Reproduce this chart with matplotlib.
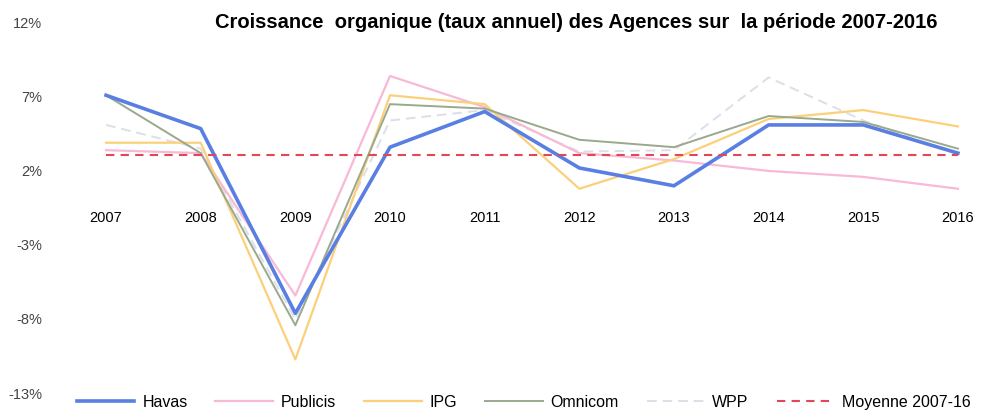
import matplotlib.pyplot as plt

plt.rcParams['font.family'] = ['Liberation Sans', 'DejaVu Sans']

years = [2007, 2008, 2009, 2010, 2011, 2012, 2013, 2014, 2015, 2016]
havas = [7.0, 4.75, -7.7, 3.5, 5.9, 2.1, 0.9, 5.0, 5.0, 3.1]
publicis = [3.3, 3.1, -6.5, 8.3, 6.2, 3.1, 2.6, 1.9, 1.5, 0.7]
ipg = [3.8, 3.8, -10.8, 7.0, 6.4, 0.7, 2.7, 5.4, 6.0, 4.9]
omnicom = [7.0, 3.1, -8.5, 6.4, 6.1, 4.0, 3.5, 5.6, 5.2, 3.4]
wpp = [5.0, 3.4, -8.1, 5.3, 6.0, 3.2, 3.3, 8.2, 5.3, 3.0]
moyenne = [3.0] * len(years)

yticks = [12, 7, 2, -3, -8, -13]
title = "Croissance  organique (taux annuel) des Agences sur  la période 2007-2016"

fig = plt.figure(figsize=(9.81, 4.14), dpi=100)
ax = fig.add_axes([0.056, 0.0507, 0.934, 0.896])

ax.plot(years, wpp, color='#dcdfe8', lw=1.4, ls=(0, (5, 3)), label='WPP', zorder=2)
ax.plot(years, publicis, color='#f8b9d6', lw=1.6, label='Publicis', zorder=3)
ax.plot(years, ipg, color='#fcd07a', lw=1.6, label='IPG', zorder=3)
ax.plot(years, omnicom, color='#9aa88c', lw=1.4, label='Omnicom', zorder=4)
ax.plot(years, havas, color='#5a7fe2', lw=2.6, label='Havas', zorder=5)
ax.plot(years, moyenne, color='#e0485a', lw=1.5, ls=(0, (4, 3)), label='Moyenne 2007-16', zorder=6)

ax.set_xlim(2006.46, 2016.14)
ax.set_ylim(-13, 12)
ax.set_yticks(yticks)
ax.set_yticklabels([f"{v}%" for v in yticks], color='#444444')
ax.set_xticks(years)
ax.set_xticklabels([str(y) for y in years], color='#222222')
ax.spines['bottom'].set_position(('data', 0))
for s in ax.spines.values():
    s.set_visible(False)
ax.tick_params(axis='both', length=0, labelsize=10.5)
ax.tick_params(axis='x', pad=8)
ax.tick_params(axis='y', pad=9)

fig.text(0.587, 0.945, title, ha='center', va='center', fontsize=14.5, fontweight='bold')

handles, labels = ax.get_legend_handles_labels()
order = ['Havas', 'Publicis', 'IPG', 'Omnicom', 'WPP', 'Moyenne 2007-16']
hmap = dict(zip(labels, handles))
fig.legend([hmap[k] for k in order], order, loc='center', ncol=6,
           bbox_to_anchor=(0.534, 0.027), frameon=False, fontsize=11.5,
           handlelength=3.6, columnspacing=1.75, handletextpad=0.5,
           borderpad=0, borderaxespad=0)

fig.savefig('out.png', dpi=100)
